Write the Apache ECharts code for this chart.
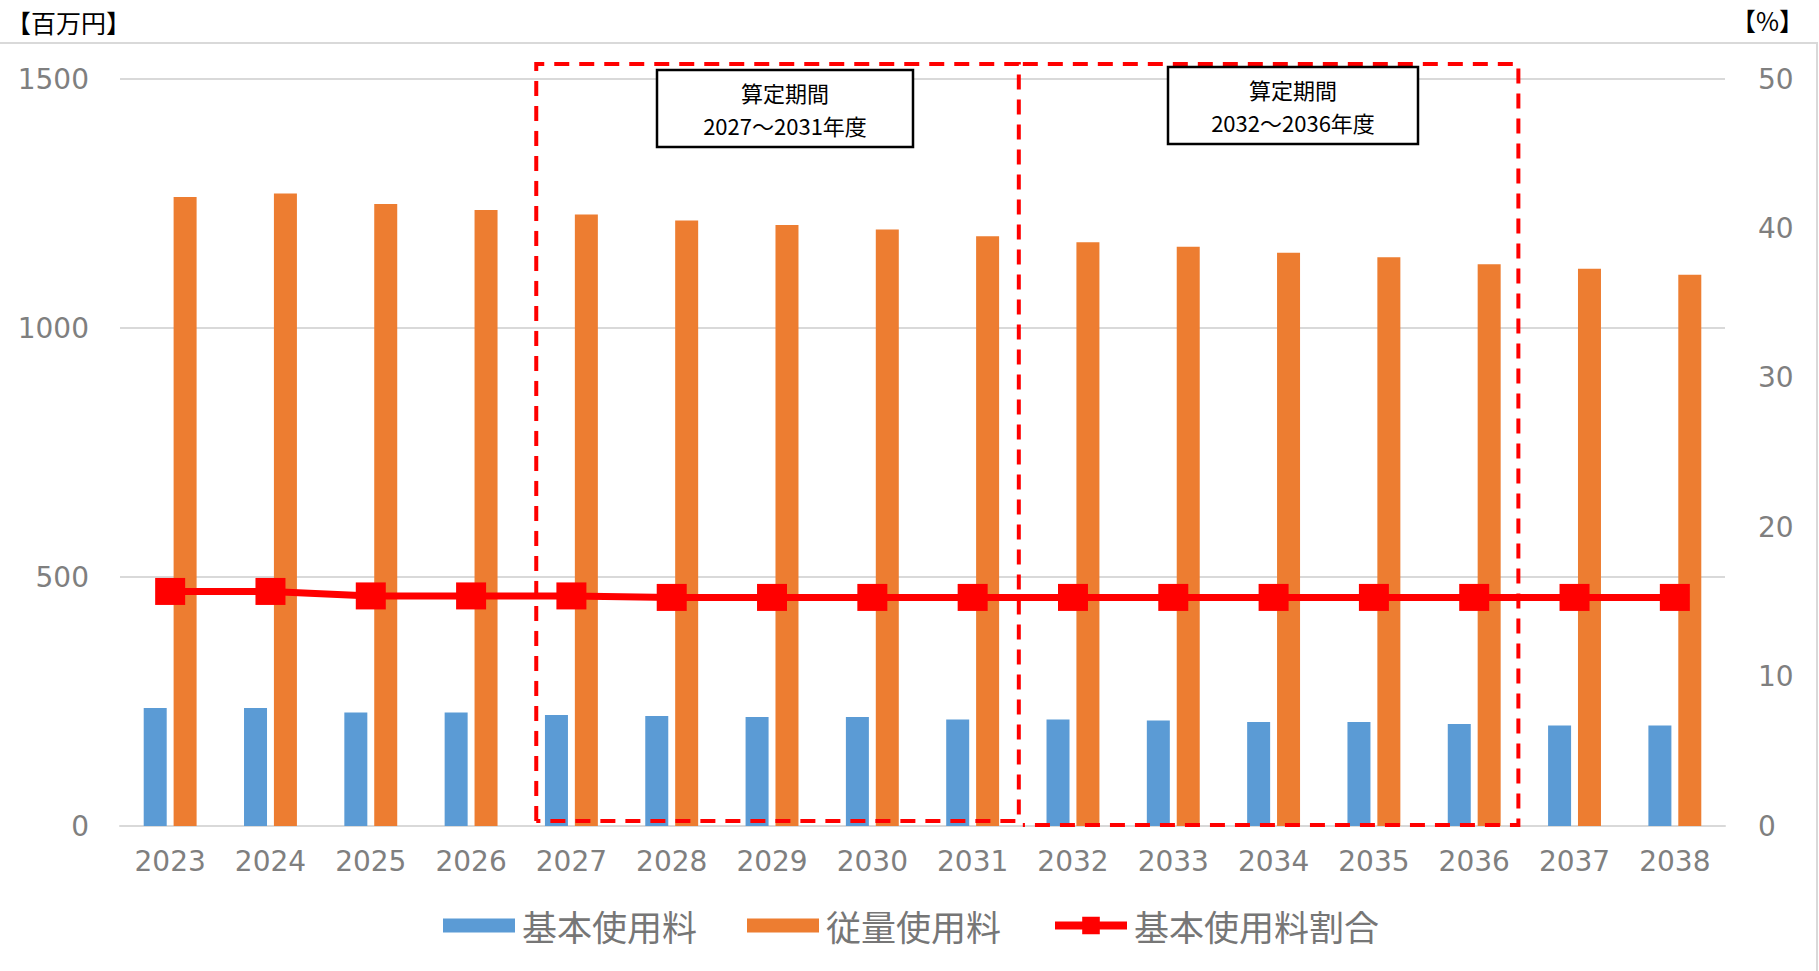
<!DOCTYPE html>
<html>
<head>
<meta charset="utf-8">
<script src="https://cdn.jsdelivr.net/npm/echarts@6/dist/echarts.min.js"></script>
<style>
html,body{margin:0;padding:0;background:#fff;}
#c{width:1819px;height:971px;}
</style>
</head>
<body>
<div id="c"></div>
<script>
const years = ['2023','2024','2025','2026','2027','2028','2029','2030','2031','2032','2033','2034','2035','2036','2037','2038'];
const basicFee = [237,237,228,228,223,221,219,219,214,214,212,209,209,205,202,202];
const volumeFee = [1263,1270,1249,1237,1228,1216,1207,1198,1184,1172,1163,1151,1142,1128,1119,1107];
const basicRatio = [15.7,15.7,15.4,15.4,15.4,15.3,15.3,15.3,15.3,15.3,15.3,15.3,15.3,15.3,15.3,15.3];
const leftTicks = [0,1500,500];
const rightTicks = [0,50,10];
const periods = [
  {from:'2027', to:'2031', label:['算定期間','2027～2031年度']},
  {from:'2032', to:'2036', label:['算定期間','2032～2036年度']}
];

const numFont = "'DejaVu Sans', 'Noto Sans CJK JP', sans-serif";
const cjkFont = "'Noto Sans CJK JP', sans-serif";
const grey = '#7f7f7f';
const rectIcon = 'path://M0,0h72v14h-72z';

const chart = echarts.init(document.getElementById('c'), null, {renderer:'svg'});
chart.setOption({
  animation:false,
  backgroundColor:'#fff',
  grid:{left:120, right:94, top:79, bottom:145},
  legend:{
    top:903, left:438,
    itemWidth:72, itemHeight:22, itemGap:50, symbolKeepAspect:true,
    textStyle:{color:'#767676', fontSize:35, fontFamily:cjkFont, padding:[0,0,0,2]},
    data:[
      {name:'基本使用料', icon:rectIcon},
      {name:'従量使用料', icon:rectIcon},
      {name:'基本使用料割合', lineStyle:{width:8}}
    ]
  },
  xAxis:{
    type:'category', data:years,
    axisLine:{lineStyle:{color:'#d9d9d9', width:2}},
    axisTick:{show:false},
    axisLabel:{color:grey, fontSize:28, fontFamily:numFont, margin:21}
  },
  yAxis:[
    {type:'value', min:leftTicks[0], max:leftTicks[1], interval:leftTicks[2],
     axisLine:{show:false}, axisTick:{show:false},
     axisLabel:{color:grey, fontSize:28, fontFamily:numFont, margin:31,
       formatter:v => String(v)},
     splitLine:{lineStyle:{color:'#d9d9d9', width:2}}},
    {type:'value', min:rightTicks[0], max:rightTicks[1], interval:rightTicks[2],
     axisLine:{show:false}, axisTick:{show:false},
     axisLabel:{color:grey, fontSize:28, fontFamily:numFont, margin:33,
       formatter:v => String(v)},
     splitLine:{show:false}}
  ],
  series:[
    {name:'基本使用料', type:'bar', data:basicFee, barWidth:23, barGap:'30%',
     itemStyle:{color:'#5b9bd5'}},
    {name:'従量使用料', type:'bar', data:volumeFee, barWidth:23, barGap:'30%',
     itemStyle:{color:'#ed7d31'}},
    {name:'基本使用料割合', type:'line', yAxisIndex:1, data:basicRatio,
     symbol:'rect', symbolSize:[30,27], z:5,
     lineStyle:{color:'#ff0000', width:7}, itemStyle:{color:'#ff0000'}}
  ]
});

function drawGraphics(){
  const x = i => chart.convertToPixel({xAxisIndex:0}, i);
  const y0 = chart.convertToPixel({yAxisIndex:0}, 0);
  const yTop = chart.convertToPixel({yAxisIndex:0}, 1500);
  const band = x(1) - x(0);
  const els = [];
  // outer frame (top and right)
  els.push({type:'polyline', shape:{points:[[0,43],[1817,43],[1817,975]]},
    style:{stroke:'#d9d9d9', lineWidth:2, fill:null}, silent:true});
  // unit labels
  els.push({type:'text', x:6, y:22, style:{text:'【百万円】', fontSize:25, fontFamily:cjkFont, fill:'#000', verticalAlign:'middle'}});
  els.push({type:'text', x:1804, y:20, style:{text:'【%】', fontSize:25, fontFamily:cjkFont, fill:'#000', align:'right', verticalAlign:'middle'}});
  periods.forEach((p, k) => {
    const i1 = years.indexOf(p.from), i2 = years.indexOf(p.to);
    const L = x(i1) - band/2 + (k===0 ? 15 : 0);
    const R = x(i2) + band/2 + (k===0 ? -4 : -6);
    const T = yTop - 15;
    const B = y0 + (k===0 ? -5 : -1);
    els.push({type:'polyline', z:100, silent:true,
      shape:{points: k===0 ? [[L,B],[L,T],[R,T],[R,B],[L,B]] : [[L,T],[R,T],[R,B],[L,B]]},
      style:{stroke:'#ff0000', lineWidth:4, lineDash:[15,10], fill:null}});
    const w = k===0 ? 256 : 250, h = 77;
    const bx = (k===0 ? 657 : 1168);
    const by = (k===0 ? 70 : 67);
    els.push({type:'rect', z:101, shape:{x:bx, y:by, width:w, height:h},
      style:{fill:'#fff', stroke:'#000', lineWidth:2.5}});
    els.push({type:'text', z:102, x:bx + w/2, y:by + 22, style:{text:p.label[0], fontSize:22, lineHeight:22, fontFamily:cjkFont,
        fill:'#000', align:'center', verticalAlign:'middle'}});
    els.push({type:'text', z:102, x:bx + w/2, y:by + 55, style:{text:p.label[1], fontSize:22, lineHeight:22, fontFamily:cjkFont,
        fill:'#000', align:'center', verticalAlign:'middle'}});
  });
  chart.setOption({graphic:{elements:els}});
}
drawGraphics();
</script>
</body>
</html>
